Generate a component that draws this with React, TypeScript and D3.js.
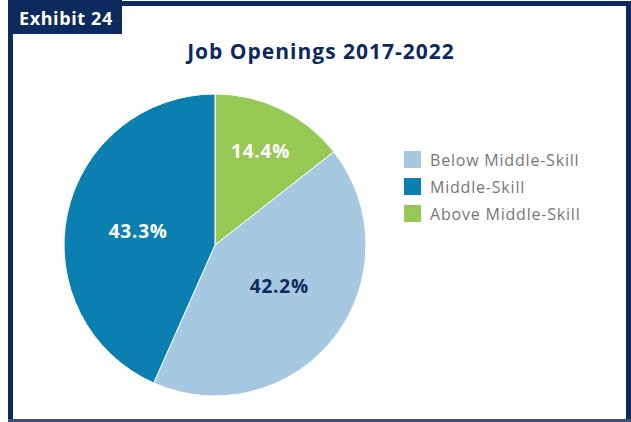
import React, { useRef, useEffect } from 'react';
import * as d3 from 'd3';

const categories = ['Above Middle-Skill', 'Below Middle-Skill', 'Middle-Skill'];
const values = [14.4, 42.2, 43.3];
const colors = ['#97c853', '#a6c9e1', '#0a7fb0'];
const labelColors = ['#ffffff', '#0d2a5e', '#ffffff'];
const legendOrder = ['Below Middle-Skill', 'Middle-Skill', 'Above Middle-Skill'];

const NAVY = '#0d2a5e';

const App: React.FC = () => {
  const svgRef = useRef<SVGSVGElement>(null);

  useEffect(() => {
    if (!svgRef.current) return;
    const svg = d3.select(svgRef.current);
    svg.selectAll('*').remove();

    const W = 631;
    const H = 422;
    const font = "'Open Sans', 'Noto Sans', sans-serif";

    svg.append('rect').attr('width', W).attr('height', H).attr('fill', '#fff');

    // frame
    svg.append('rect').attr('x', 8).attr('y', 1).attr('width', 5).attr('height', H - 1).attr('fill', NAVY);
    svg.append('rect').attr('x', 8).attr('y', 1).attr('width', W - 8).attr('height', 5).attr('fill', NAVY);
    svg.append('rect').attr('x', 626).attr('y', 1).attr('width', 5).attr('height', H - 1).attr('fill', NAVY);
    svg.append('rect').attr('x', 8).attr('y', 419).attr('width', W - 8).attr('height', 3).attr('fill', '#3a5080');

    // exhibit tag
    svg.append('rect').attr('x', 8).attr('y', 0).attr('width', 114).attr('height', 34).attr('fill', NAVY);
    svg.append('text')
      .attr('x', 19).attr('y', 25)
      .attr('font-family', font).attr('font-weight', 700).attr('font-size', 18)
      .attr('letter-spacing', 0.6)
      .attr('fill', '#fff')
      .text('Exhibit 24');

    // title
    svg.append('text')
      .attr('x', 321).attr('y', 59)
      .attr('text-anchor', 'middle')
      .attr('font-family', font).attr('font-weight', 700).attr('font-size', 21)
      .attr('letter-spacing', 1)
      .attr('fill', NAVY)
      .text('Job Openings 2017-2022');

    const cx = 215, cy = 245, r = 151;
    const pie = d3.pie<number>().sort(null).value(d => d);
    const arcs = pie(values);
    const arc = d3.arc<d3.PieArcDatum<number>>().innerRadius(0).outerRadius(r);
    const g = svg.append('g').attr('transform', `translate(${cx},${cy})`);

    g.selectAll('path')
      .data(arcs)
      .enter()
      .append('path')
      .attr('d', arc)
      .attr('fill', (d, i) => colors[i])
      .attr('stroke', '#fff')
      .attr('stroke-width', 1);

    const labelPos = [0.69, 0.54, 0.52];
    const labelDy = [0, -9, 2];
    g.selectAll('.lbl')
      .data(arcs)
      .enter()
      .append('text')
      .attr('class', 'lbl')
      .attr('transform', (d, i) => {
        const a = d3.arc<d3.PieArcDatum<number>>().innerRadius(r * labelPos[i]).outerRadius(r * labelPos[i]);
        const [x, y] = a.centroid(d);
        return `translate(${x},${y + labelDy[i]})`;
      })
      .attr('text-anchor', 'middle')
      .attr('dominant-baseline', 'central')
      .attr('font-family', font).attr('font-weight', 700).attr('font-size', 19)
      .attr('letter-spacing', 0.8)
      .attr('fill', (d, i) => labelColors[i])
      .text(d => `${d.data.toFixed(1)}%`);

    const legend = svg.append('g').attr('transform', 'translate(404,151)');
    const items = legend.selectAll('.item')
      .data(legendOrder)
      .enter()
      .append('g')
      .attr('transform', (d, i) => `translate(0,${i * 27})`);
    items.append('rect')
      .attr('width', 17).attr('height', 17)
      .attr('fill', d => colors[categories.indexOf(d)]);
    items.append('text')
      .attr('x', 26).attr('y', 8.5)
      .attr('dominant-baseline', 'central')
      .attr('font-family', font).attr('font-size', 16)
      .attr('letter-spacing', 0.8)
      .attr('fill', '#777')
      .text(d => d);
  }, []);

  return <svg ref={svgRef} width={631} height={422} style={{ position: 'absolute', left: 0, top: 0 }} />;
};

export default App;
